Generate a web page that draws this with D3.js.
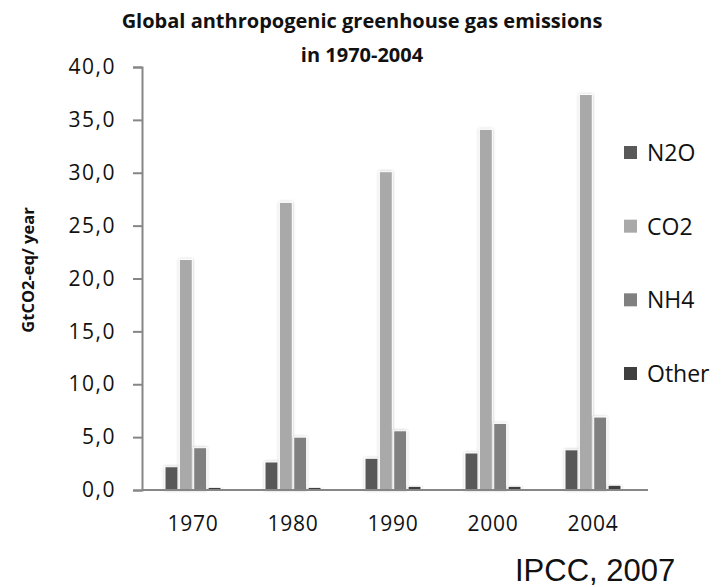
<!DOCTYPE html>
<html>
<head>
<meta charset="utf-8">
<script src="https://cdn.jsdelivr.net/npm/d3@7"></script>
<style>
  html, body { margin: 0; padding: 0; background: #fff; }
  svg { display: block; }
</style>
</head>
<body>
<svg id="chart" width="727" height="587"></svg>
<script>
// Emissions by gas, GtCO2-eq per year
const years = ["1970", "1980", "1990", "2000", "2004"];
const seriesNames = ["N2O", "CO2", "NH4", "Other"];
const n2o   = [2.2, 2.65, 3.0, 3.5, 3.8];
const co2   = [21.8, 27.2, 30.1, 34.1, 37.4];
const nh4   = [4.0, 5.0, 5.6, 6.3, 6.9];
const other = [0.25, 0.25, 0.35, 0.35, 0.45];
const yTicks = [0, 5, 10, 15, 20, 25, 30, 35, 40];
const colors = ["#595959", "#a9a9a9", "#808080", "#3f3f3f"];

const seriesValues = [n2o, co2, nh4, other];

const svg = d3.select("#chart");
const plotLeft = 142, plotRight = 642, plotTop = 67, plotBottom = 490;

const x = d3.scaleBand().domain(years).range([plotLeft, plotRight]).paddingInner(0).paddingOuter(0);
const xInner = d3.scaleBand().domain(seriesNames).range([0, 56]).paddingInner(0.1);
const y = d3.scaleLinear().domain([0, 40]).range([plotBottom, plotTop]);

// soft shadow around bars
const defs = svg.append("defs");
const f = defs.append("filter").attr("id", "soft").attr("x", "-50%").attr("y", "-10%").attr("width", "200%").attr("height", "120%");
f.append("feGaussianBlur").attr("in", "SourceAlpha").attr("stdDeviation", 1.6).attr("result", "b");
f.append("feComponentTransfer").attr("in", "b").attr("result", "s")
  .append("feFuncA").attr("type", "linear").attr("slope", 0.25);
const m = f.append("feMerge");
m.append("feMergeNode").attr("in", "s");
m.append("feMergeNode").attr("in", "SourceGraphic");

const font = "'Open Sans', 'DejaVu Sans', sans-serif";
const fmt = d => d.toFixed(1).replace(".", ",");

// Title
svg.append("text").attr("x", 362).attr("y", 28).attr("text-anchor", "middle")
  .attr("font-family", font).attr("font-weight", "bold").attr("font-size", 20).attr("fill", "#111")
  .text("Global anthropogenic greenhouse gas emissions");
svg.append("text").attr("x", 362).attr("y", 62).attr("text-anchor", "middle")
  .attr("font-family", font).attr("font-weight", "bold").attr("font-size", 20).attr("fill", "#111")
  .text("in 1970-2004");

// Bars
const groups = svg.append("g").selectAll("g").data(years).join("g")
  .attr("transform", d => `translate(${x(d) + (x.bandwidth() - 56) / 2 + 1},0)`);
groups.selectAll("rect")
  .data((yr, i) => seriesNames.map((s, k) => ({ s, k, v: seriesValues[k][i] })))
  .join("rect")
  .attr("x", d => xInner(d.s))
  .attr("width", xInner.bandwidth())
  .attr("y", d => y(d.v))
  .attr("height", d => y(0) - y(d.v))
  .attr("fill", d => colors[d.k])
  .attr("stroke", "#fff").attr("stroke-width", 1)
  .attr("filter", "url(#soft)");

// Y axis
const yAxis = d3.axisLeft(y).tickValues(yTicks).tickFormat(fmt).tickSize(9).tickPadding(17);
const ga = svg.append("g").attr("transform", `translate(${plotLeft},0)`).call(yAxis);
ga.select(".domain").attr("stroke", "#868686").attr("stroke-width", 2);
ga.selectAll(".tick line").attr("stroke", "#868686").attr("stroke-width", 2);
ga.selectAll(".tick text").attr("font-family", font).attr("font-size", 21)
  .attr("letter-spacing", 1.5).attr("fill", "#111");

// X baseline and labels
const xAxis = d3.axisBottom(x).tickSize(0).tickPadding(26);
const gx = svg.append("g").attr("transform", `translate(0,${plotBottom})`).call(xAxis);
gx.select(".domain").attr("stroke", "#868686").attr("stroke-width", 2)
  .attr("d", `M${plotLeft},0H${plotRight + 6}`);
gx.selectAll(".tick text").attr("font-family", font).attr("font-size", 21)
  .attr("letter-spacing", 0.8).attr("fill", "#111").attr("dx", 1);

// Y axis title
svg.append("text").attr("transform", "translate(34,270) rotate(-90)").attr("text-anchor", "middle")
  .attr("font-family", font).attr("font-weight", "bold").attr("font-size", 16.5).attr("fill", "#111")
  .text("GtCO2-eq/ year");

// Legend
const legendY = d3.scalePoint().domain(seriesNames).range([152, 373]);
const lg = svg.append("g").selectAll("g").data(seriesNames).join("g")
  .attr("transform", d => `translate(624,${legendY(d)})`);
lg.append("rect").attr("x", 0).attr("y", -6).attr("width", 13).attr("height", 13)
  .attr("fill", (d, i) => colors[i]);
lg.append("text").attr("x", 23).attr("y", 9)
  .attr("font-family", font).attr("font-size", 23).attr("fill", "#111")
  .text(d => d);

// Source note
svg.append("text").attr("x", 515).attr("y", 581)
  .attr("font-family", "'Liberation Sans', Arial, sans-serif").attr("font-size", 31).attr("fill", "#111")
  .text("IPCC, 2007");
</script>
</body>
</html>
